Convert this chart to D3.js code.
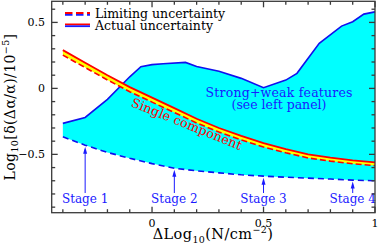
<!DOCTYPE html>
<html>
<head>
<meta charset="utf-8">
<script src="https://cdn.jsdelivr.net/npm/d3@7"></script>
<style>
  body { margin: 0; background: #fff; }
  text { font-family: "DejaVu Serif", serif; }
</style>
</head>
<body>
<div id="chart"></div>
<script>
var w = 387, h = 247;

// x positions (Delta log N) for the single component curves and the lower envelope
var xs = [-0.4, -0.3, -0.2, -0.1, 0, 0.1, 0.2, 0.3, 0.4, 0.5, 0.6, 0.7, 0.8, 0.9, 1.0];
var singleActual = [0.29, 0.195, 0.10, 0.01, -0.07, -0.15, -0.23, -0.30, -0.36, -0.415, -0.46, -0.50, -0.525, -0.545, -0.56];
var singleLimit = [0.252, 0.158, 0.064, -0.025, -0.104, -0.183, -0.262, -0.331, -0.39, -0.444, -0.488, -0.527, -0.551, -0.571, -0.585];
var swLimit = [-0.367, -0.43, -0.485, -0.53, -0.57, -0.605, -0.625, -0.64, -0.655, -0.665, -0.673, -0.68, -0.687, -0.695, -0.70];

// strong+weak actual uncertainty (upper edge of the cyan region)
var swX = [-0.4, -0.3, -0.2, -0.1, -0.05, 0, 0.05, 0.15, 0.2, 0.3, 0.4, 0.5, 0.6, 0.65, 0.75, 0.85, 0.9, 0.95, 1.0];
var swActual = [-0.265, -0.22, -0.083, 0.088, 0.164, 0.18, 0.187, 0.197, 0.166, 0.13, 0.076, 0.005, 0.063, 0.114, 0.341, 0.472, 0.505, 0.563, 0.58];

var stageX = [-0.3, 0.1, 0.5, 0.9];
var stageLabels = ["Stage 1", "Stage 2", "Stage 3", "Stage 4"];

var xMajor = [0, 0.5, 1];
var xMajorLabels = ["0", "0.5", "1"];
var yMajor = [-0.5, 0, 0.5];
var yMajorLabels = ["\u22120.5", "0", "0.5"];

var svg = d3.select("#chart").append("svg")
    .attr("width", w).attr("height", h);

var x = d3.scaleLinear().domain([-0.45, 1.0]).range([51.7, 375]);
var y = d3.scaleLinear().domain([-0.942, 0.66]).range([212.7, 1.3]);

var single = xs.map((d, i) => ({ x: d, hi: singleActual[i], lo: singleLimit[i] }));
var lowerAt = d3.scaleLinear().domain(xs).range(swLimit);

// cyan region: upper solid edge then lower dashed edge back
var poly = swX.map((d, i) => [x(d), y(swActual[i])])
    .concat(xs.slice().reverse().map((d, i) => [x(d), y(swLimit[xs.length - 1 - i])]));
svg.append("path")
    .attr("d", "M" + poly.join("L") + "Z")
    .attr("fill", "#00ffff");

var line = d3.line();
svg.append("path")
    .attr("d", line(swX.map((d, i) => [x(d), y(swActual[i])])))
    .attr("fill", "none").attr("stroke", "#1010ee").attr("stroke-width", 1.6);
svg.append("path")
    .attr("d", line(xs.map((d, i) => [x(d), y(swLimit[i])])))
    .attr("fill", "none").attr("stroke", "#1010ee").attr("stroke-width", 1.6)
    .attr("stroke-dasharray", "6,4");

// yellow band for the single component
svg.append("path")
    .attr("d", d3.area().x(d => x(d.x)).y0(d => y(d.lo)).y1(d => y(d.hi))(single))
    .attr("fill", "#ffff00");
svg.append("path")
    .attr("d", d3.line().x(d => x(d.x)).y(d => y(d.hi))(single))
    .attr("fill", "none").attr("stroke", "#ff0000").attr("stroke-width", 1.8);
svg.append("path")
    .attr("d", d3.line().x(d => x(d.x)).y(d => y(d.lo))(single))
    .attr("fill", "none").attr("stroke", "#ff0000").attr("stroke-width", 1.6)
    .attr("stroke-dasharray", "6,3");

// stage arrows
var stages = svg.append("g").attr("fill", "#1a1aff");
stageX.forEach(function (sx, i) {
    var px = x(sx), tip = y(lowerAt(sx)) + 1.5;
    stages.append("line")
        .attr("x1", px).attr("x2", px).attr("y1", tip + 3).attr("y2", 193)
        .attr("stroke", "#1a1aff").attr("stroke-width", 1);
    stages.append("path")
        .attr("d", "M" + px + "," + tip + "L" + (px - 2) + "," + (tip + 7) + "L" + (px + 2) + "," + (tip + 7) + "Z");
    stages.append("text")
        .attr("x", px).attr("y", 202.5)
        .attr("text-anchor", "middle")
        .attr("font-size", "12px")
        .text(stageLabels[i]);
});

// texts in the panel
svg.append("text")
    .attr("x", 279).attr("y", 97)
    .attr("text-anchor", "middle").attr("fill", "#1a1aff")
    .attr("font-size", "12.5px")
    .attr("textLength", 147).attr("lengthAdjust", "spacing")
    .text("Strong+weak features");
svg.append("text")
    .attr("x", 279).attr("y", 109)
    .attr("text-anchor", "middle").attr("fill", "#1a1aff")
    .attr("font-size", "12.5px")
    .text("(see left panel)");
svg.append("text")
    .attr("transform", "translate(185,128) rotate(22)")
    .attr("text-anchor", "middle").attr("fill", "#ff0000")
    .attr("font-size", "12.8px")
    .attr("textLength", 118).attr("lengthAdjust", "spacing")
    .text("Single component");

// legend
var legend = svg.append("g");
legend.append("line").attr("x1", 65).attr("x2", 90).attr("y1", 13).attr("y2", 13)
    .attr("stroke", "#ff0000").attr("stroke-width", 1.8).attr("stroke-dasharray", "7.5,3.5");
legend.append("line").attr("x1", 65).attr("x2", 90).attr("y1", 14.8).attr("y2", 14.8)
    .attr("stroke", "#1a1aff").attr("stroke-width", 1.8).attr("stroke-dasharray", "7.5,3.5");
legend.append("line").attr("x1", 65).attr("x2", 90).attr("y1", 24.4).attr("y2", 24.4)
    .attr("stroke", "#ff0000").attr("stroke-width", 1.8);
legend.append("line").attr("x1", 65).attr("x2", 90).attr("y1", 26.2).attr("y2", 26.2)
    .attr("stroke", "#1a1aff").attr("stroke-width", 1.8);
legend.append("text").attr("x", 95).attr("y", 17.5).attr("font-size", "12.5px")
    .attr("textLength", 130).attr("lengthAdjust", "spacing")
    .text("Limiting uncertainty");
legend.append("text").attr("x", 95).attr("y", 29.5).attr("font-size", "12.5px")
    .attr("textLength", 118).attr("lengthAdjust", "spacing")
    .text("Actual uncertainty");

// frame and ticks
var axisColor = "#3a3a3a";
var frame = svg.append("g").attr("stroke", axisColor).attr("stroke-width", 1.3);
frame.append("rect")
    .attr("x", x.range()[0]).attr("y", y.range()[1])
    .attr("width", x.range()[1] - x.range()[0])
    .attr("height", y.range()[0] - y.range()[1])
    .attr("fill", "none");

var xMinor = d3.range(-4, 11).map(d => d / 10);
var yMinor = d3.range(-9, 7).map(d => d / 10);
xMinor.forEach(function (t) {
    var len = xMajor.some(m => Math.abs(m - t) < 1e-9) ? 6 : 3.5;
    frame.append("line").attr("x1", x(t)).attr("x2", x(t))
        .attr("y1", y.range()[0]).attr("y2", y.range()[0] - len);
    frame.append("line").attr("x1", x(t)).attr("x2", x(t))
        .attr("y1", y.range()[1]).attr("y2", y.range()[1] + len);
});
yMinor.forEach(function (t) {
    var len = yMajor.some(m => Math.abs(m - t) < 1e-9) ? 6 : 3.5;
    frame.append("line").attr("y1", y(t)).attr("y2", y(t))
        .attr("x1", x.range()[0]).attr("x2", x.range()[0] + len);
    frame.append("line").attr("y1", y(t)).attr("y2", y(t))
        .attr("x1", x.range()[1]).attr("x2", x.range()[1] - len);
});

svg.append("g").selectAll("text").data(xMajor).enter().append("text")
    .attr("x", d => x(d)).attr("y", 227)
    .attr("text-anchor", "middle").attr("font-size", "11px")
    .text((d, i) => xMajorLabels[i]);
svg.append("g").selectAll("text").data(yMajor).enter().append("text")
    .attr("x", 45).attr("y", d => y(d) + 4)
    .attr("text-anchor", "end").attr("font-size", "11px")
    .text((d, i) => yMajorLabels[i]);

// axis titles
var xt = svg.append("text")
    .attr("x", 213).attr("y", 239)
    .attr("text-anchor", "middle").attr("font-size", "14.5px")
    .attr("letter-spacing", "0.4px");
xt.append("tspan").text("\u0394Log");
xt.append("tspan").attr("font-size", "9.5px").attr("dy", 3.5).text("10");
xt.append("tspan").attr("dy", -3.5).text("(N/cm");
xt.append("tspan").attr("font-size", "9.5px").attr("dy", -6).text("\u22122");
xt.append("tspan").attr("dy", 6).text(")");

var yt = svg.append("text")
    .attr("transform", "translate(14.5,107) rotate(-90)")
    .attr("text-anchor", "middle").attr("font-size", "14px")
    .attr("letter-spacing", "0.4px");
yt.append("tspan").text("Log");
yt.append("tspan").attr("font-size", "9.5px").attr("dy", 3.5).text("10");
yt.append("tspan").attr("dy", -3.5).text("[\u03b4(\u0394\u03b1/\u03b1)/10");
yt.append("tspan").attr("font-size", "9.5px").attr("dy", -6).text("\u22125");
yt.append("tspan").attr("dy", 6).text("]");
</script>
</body>
</html>
